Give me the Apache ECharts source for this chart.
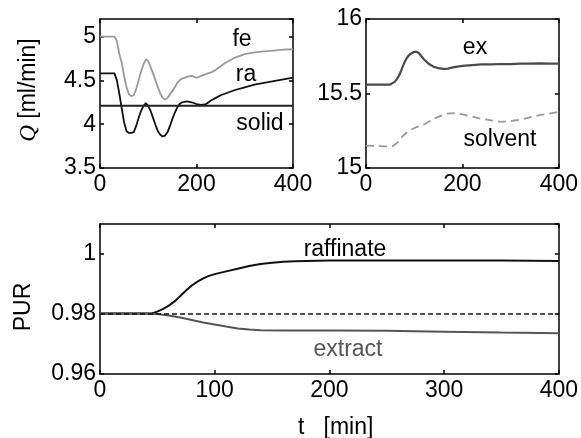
<!DOCTYPE html>
<html><head><meta charset="utf-8">
<script src="https://cdn.jsdelivr.net/npm/echarts@6/dist/echarts.min.js"></script>
<style>html,body{margin:0;padding:0;background:#fff}#c{width:581px;height:438px}</style>
</head><body><div id="c"></div>
<script>
// ---- Top-left panel: flow rates Q [ml/min] ----
var tFe = [0,10,20,30,35,40,45,50,55,60,65,70,75,80,85,90,95,100,105,110,115,120,125,130,135,140,145,150,155,160,165,170,180,190,200,210,220,230,240,250,260,270,280,290,300,320,340,360,380,400];
var qFe = [5.0,5.0,5.0,5.0,4.95,4.80,4.70,4.55,4.42,4.34,4.32,4.33,4.40,4.50,4.60,4.68,4.74,4.72,4.65,4.58,4.50,4.42,4.35,4.30,4.28,4.30,4.34,4.38,4.42,4.47,4.50,4.52,4.54,4.55,4.53,4.55,4.57,4.59,4.62,4.66,4.70,4.73,4.76,4.78,4.80,4.82,4.83,4.84,4.85,4.855];
var tRa = [0,30,35,40,45,50,55,60,65,70,75,80,85,90,95,100,105,110,115,120,125,130,135,140,145,150,155,160,165,170,180,190,200,210,220,230,240,250,260,270,280,300,320,340,360,380,400];
var qRa = [4.58,4.58,4.50,4.35,4.18,4.02,3.92,3.90,3.90,3.91,3.98,4.07,4.15,4.21,4.24,4.21,4.15,4.07,3.99,3.92,3.88,3.86,3.87,3.91,3.98,4.06,4.13,4.19,4.23,4.25,4.26,4.25,4.23,4.22,4.23,4.27,4.30,4.33,4.35,4.37,4.39,4.42,4.45,4.47,4.49,4.51,4.53];
var tSolid = [0,400];
var qSolid = [4.21,4.21];
// ---- Top-right panel ----
var tEx = [0,50,55,60,65,70,75,80,85,90,95,100,105,110,115,120,130,140,150,160,170,180,190,200,220,240,260,280,300,320,340,360,380,400];
var qEx = [15.56,15.56,15.57,15.58,15.60,15.63,15.67,15.71,15.74,15.76,15.77,15.78,15.78,15.77,15.75,15.73,15.70,15.68,15.67,15.665,15.667,15.675,15.68,15.685,15.69,15.695,15.695,15.698,15.697,15.70,15.70,15.702,15.70,15.70];
var tSolv = [0,20,40,55,65,75,85,95,105,115,125,140,155,170,180,190,200,220,240,260,280,300,320,340,360,380,400];
var qSolv = [15.15,15.148,15.145,15.145,15.17,15.21,15.24,15.26,15.275,15.285,15.30,15.33,15.35,15.365,15.368,15.365,15.36,15.345,15.33,15.32,15.31,15.315,15.325,15.34,15.355,15.365,15.378];
// ---- Bottom panel: purity ----
var tRaf = [0,45,50,55,60,65,70,75,80,85,90,95,100,110,120,130,140,150,160,170,180,200,250,300,350,400];
var purRaf = [0.9802,0.9802,0.9808,0.9817,0.9828,0.9842,0.9860,0.9878,0.9895,0.9908,0.9919,0.9927,0.9933,0.9942,0.9951,0.9960,0.9967,0.9971,0.9974,0.9976,0.9977,0.9978,0.9978,0.9978,0.9978,0.9977];
var tExt = [0,40,50,60,70,80,90,100,110,120,130,140,160,200,250,300,350,400];
var purExt = [0.9802,0.9802,0.9800,0.9795,0.9788,0.9780,0.9772,0.9765,0.9758,0.9752,0.9748,0.9746,0.9745,0.9745,0.9744,0.9741,0.9738,0.9736];
var tRef = [0,400];
var purRef = [0.98,0.98];

var xTicksTop = [0,200,400];
var xTicksBottom = [0,100,200,300,400];

function zip(t, v){ return t.map(function(x,i){ return [x, v[i]]; }); }
var FONT = '"Liberation Sans", Arial, sans-serif';
var FS = 23;
var LINE = {color:'#000', width:1.5};

function xAxes(gi, ticks){
  var iv = ticks[1]-ticks[0];
  return [
    {type:'value', gridIndex:gi, min:0, max:400, interval:iv, position:'bottom',
     axisLine:{show:true,onZero:false,lineStyle:LINE},
     axisTick:{show:true,inside:true,length:4,lineStyle:LINE},
     axisLabel:{show:true,color:'#000',fontSize:FS,fontFamily:FONT,margin:5},
     splitLine:{show:false}},
    {type:'value', gridIndex:gi, min:0, max:400, interval:iv, position:'top',
     axisLine:{show:true,onZero:false,lineStyle:LINE},
     axisTick:{show:true,inside:true,length:4,lineStyle:LINE},
     axisLabel:{show:false}, splitLine:{show:false}}
  ];
}
function yAxes(gi, min, max, iv, showMax){
  return [
    {type:'value', gridIndex:gi, min:min, max:max, interval:iv, position:'left',
     axisLine:{show:true,onZero:false,lineStyle:LINE},
     axisTick:{show:true,inside:true,length:4,lineStyle:LINE},
     axisLabel:{show:true,color:'#000',fontSize:FS,fontFamily:FONT,margin:4,showMaxLabel:showMax},
     splitLine:{show:false}},
    {type:'value', gridIndex:gi, min:min, max:max, interval:iv, position:'right',
     axisLine:{show:true,onZero:false,lineStyle:LINE},
     axisTick:{show:true,inside:true,length:4,lineStyle:LINE},
     axisLabel:{show:false}, splitLine:{show:false}}
  ];
}

function mkLine(name, xi, yi, data, color, width, type){
  return {name:name, type:'line', xAxisIndex:xi, yAxisIndex:yi, data:data, showSymbol:false, symbol:'none',
    smooth:false, animation:false,
    lineStyle:{color:color, width:width, type: type || 'solid'}, z: 3};
}

function mkLabel(text, x, y, color){
  return {type:'text', x:x, y:y, style:{text:text, fill:color||'#000', font: FS+'px '+FONT,
    align:'center', verticalAlign:'middle'}};
}

var chart = echarts.init(document.getElementById('c'), null, {renderer:'canvas'});
window.chart = chart;

var option = {
  animation:false,
  backgroundColor:'#fff',
  grid:[
    {left:100, top:19, width:193, height:149},
    {left:366, top:19, width:193, height:149},
    {left:100, top:224, width:459, height:150}
  ],
  xAxis:[].concat(xAxes(0,xTicksTop), xAxes(1,xTicksTop), xAxes(2,xTicksBottom)),
  yAxis:[].concat(yAxes(0,3.5,5.2,0.5,false), yAxes(1,15,16,0.5,true), yAxes(2,0.96,1.01,0.02,false)),
  series:[
    mkLine('fe',0,0,zip(tFe,qFe),'#9a9a9a',1.8),
    mkLine('ra',0,0,zip(tRa,qRa),'#111',1.8),
    mkLine('solid',0,0,zip(tSolid,qSolid),'#222',2.2),
    mkLine('ex',2,2,zip(tEx,qEx),'#4a4a4a',2.2),
    mkLine('solvent',2,2,zip(tSolv,qSolv),'#9a9a9a',1.8,[8,5]),
    mkLine('raffinate',4,4,zip(tRaf,purRaf),'#111',2),
    mkLine('extract',4,4,zip(tExt,purExt),'#555',2),
    mkLine('reference',4,4,zip(tRef,purRef),'#111',1.5,[5,3])
  ],
  graphic:[
    mkLabel('fe',242,40),
    mkLabel('ra',246,75),
    mkLabel('solid',260,124),
    mkLabel('ex',475,48),
    mkLabel('solvent',500,140),
    mkLabel('raffinate',345,250),
    mkLabel('extract',348,350,'#555'),
    {type:'text', x:29, y:90, rotation:Math.PI/2,
     style:{text:'{q|Q} [ml/min]', fill:'#000', font: FS+'px '+FONT, align:'center', verticalAlign:'middle',
       rich:{q:{fontStyle:'italic', fontFamily:'"Liberation Serif", serif', fontSize:FS, fill:'#000'}}}},
    {type:'text', x:24, y:307, rotation:Math.PI/2,
     style:{text:'PUR', fill:'#000', font: FS+'px '+FONT, align:'center', verticalAlign:'middle'}},
    {type:'text', x:298, y:428,
     style:{text:'t   [min]', fill:'#000', font: FS+'px '+FONT, align:'left', verticalAlign:'middle'}}
  ]
};
chart.setOption(option);
</script></body></html>
